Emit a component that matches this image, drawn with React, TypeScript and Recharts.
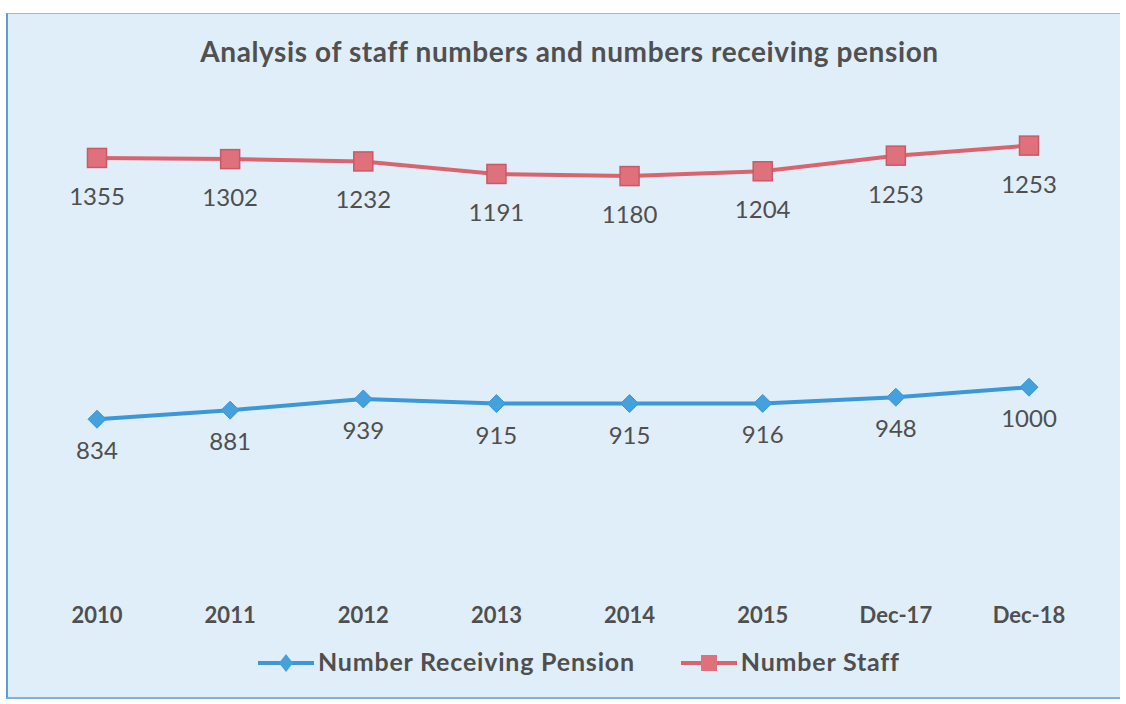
import React from 'react';
import { AreaChart, Area, XAxis, YAxis, LabelList } from 'recharts';

// data
const years = ['2010', '2011', '2012', '2013', '2014', '2015', 'Dec-17', 'Dec-18'];
const pensionValues = [834, 881, 939, 915, 915, 916, 948, 1000];
const staffValues = [1355, 1302, 1232, 1191, 1180, 1204, 1253, 1253];
const seriesNames = ['Number Receiving Pension', 'Number Staff'];

const data = years.map((year, i) => ({ year, pension: pensionValues[i], staff: staffValues[i] }));

const BLUE = '#3b97d6';
const RED = '#d9646f';
const TEXT = '#4f4f4f';
const FONT = 'Lato, "Open Sans", sans-serif';

const renderDiamond = (props: any) => {
    const { cx, cy, index } = props;
    const r = 9;
    return (
        <polygon
            key={`d-${index}`}
            points={`${cx},${cy - r} ${cx + r},${cy} ${cx},${cy + r} ${cx - r},${cy}`}
            fill="#45a0de"
            stroke={BLUE}
            strokeWidth={1}
        />
    );
};

const renderSquare = (props: any) => {
    const { cx, cy, index } = props;
    const s = 19;
    return (
        <rect key={`s-${index}`} x={cx - s / 2} y={cy - s / 2} width={s} height={s} fill="#df717c" stroke="#cc5865" strokeWidth={1.5} />
    );
};

const LegendItem: React.FC<{ name: string; color: string; marker: 'diamond' | 'square' }> = ({ name, color, marker }) => (
    <div style={{ display: 'flex', alignItems: 'center' }}>
        <svg width={58} height={22} style={{ marginTop: 4 }}>
            <line x1={1} y1={11} x2={57} y2={11} stroke={color} strokeWidth={4} />
            {marker === 'diamond'
                ? <polygon points="29,2 36,11 29,20 22,11" fill="#45a0de" />
                : <rect x={21} y={3} width={16} height={16} fill="#df717c" />}
        </svg>
        <span style={{ fontSize: 25, letterSpacing: 0.8, fontWeight: 700, color: TEXT, fontFamily: FONT, marginLeft: 3 }}>{name}</span>
    </div>
);

export default function App() {
    return (
        <div style={{ position: 'absolute', left: 0, top: 0, width: 1126, height: 704, background: '#fff', overflow: 'hidden' }}>
            <div style={{
                position: 'absolute', left: 6, top: 13, width: 1114, height: 686,
                background: '#e0eef9', borderLeft: '2px solid #5b9fd0', borderTop: '1px solid #8fbfe0',
                borderBottom: '2px solid #7db3dc', boxSizing: 'border-box'
            }} />
            <div style={{
                position: 'absolute', left: 0, top: 34, width: 1139, textAlign: 'center',
                fontSize: 28, letterSpacing: 0.6, lineHeight: '34px', fontWeight: 700, color: '#505050', fontFamily: FONT
            }}>
                Analysis of staff numbers and numbers receiving pension
            </div>
            <div style={{ position: 'absolute', left: 0, top: 0 }}>
                <AreaChart width={1126} height={704} data={data} margin={{ top: 98, right: 30, bottom: 94, left: 30 }}>
                    <XAxis
                        dataKey="year"
                        axisLine={false}
                        tickLine={false}
                        interval={0}
                        padding={{ left: 67, right: 67 }}
                        tickMargin={21}
                        tick={{ fill: TEXT, fontSize: 22, fontWeight: 700, fontFamily: FONT }}
                    />
                    <YAxis hide domain={[0, 2500]} />
                    <Area
                        type="linear"
                        dataKey="pension"
                        stackId="a"
                        stroke={BLUE}
                        strokeWidth={4}
                        fill="none"
                        fillOpacity={0}
                        dot={renderDiamond}
                        activeDot={false}
                        isAnimationActive={false}
                    >
                        <LabelList dataKey="pension" position="bottom" offset={23} fill={TEXT} fontSize={24} fontFamily={FONT} />
                    </Area>
                    <Area
                        type="linear"
                        dataKey="staff"
                        stackId="a"
                        stroke={RED}
                        strokeWidth={4}
                        fill="none"
                        fillOpacity={0}
                        dot={renderSquare}
                        activeDot={false}
                        isAnimationActive={false}
                    >
                        <LabelList dataKey="staff" position="bottom" offset={30} fill={TEXT} fontSize={24} fontFamily={FONT} />
                    </Area>
                </AreaChart>
            </div>
            <div style={{
                position: 'absolute', left: 257, top: 646, display: 'flex', gap: 45
            }}>
                <LegendItem name={seriesNames[0]} color={BLUE} marker="diamond" />
                <LegendItem name={seriesNames[1]} color={RED} marker="square" />
            </div>
        </div>
    );
}
